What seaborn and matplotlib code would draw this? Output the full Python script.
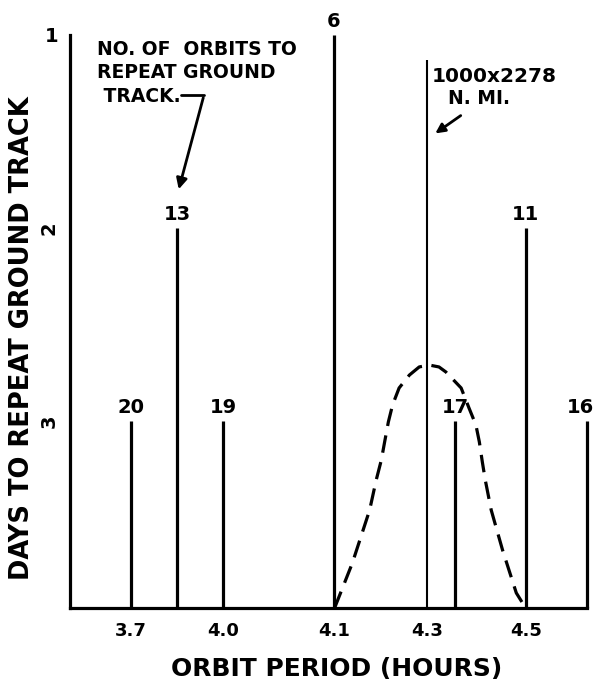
import numpy as np
import pandas as pd
import matplotlib
matplotlib.use('Agg')
import matplotlib.pyplot as plt
import seaborn as sns

# orbits to repeat the ground track
ORBIT_PERIOD = [3.70, 3.85, 4.00, 4.10, 4.357, 4.50, 4.625]
DAYS_TO_REPEAT = [3, 2, 3, 1, 3, 2, 3]
ORBIT_COUNT = ['20', '13', '19', '6', '17', '11', '16']

# 1000 x 2278 n.mi. reference orbit
REF_PERIOD = 4.30
REF_DAYS = 1.13

# dashed envelope
CURVE_PERIOD = [4.102, 4.140, 4.177, 4.191, 4.202, 4.209, 4.217, 4.226,
                4.240, 4.262, 4.283, 4.304, 4.324, 4.338, 4.369, 4.385,
                4.399, 4.406, 4.412, 4.418, 4.430, 4.453, 4.481, 4.500]
CURVE_DAYS = [3.969, 3.736, 3.461, 3.306, 3.202, 3.109, 3.005, 2.917,
              2.829, 2.762, 2.720, 2.710, 2.720, 2.746, 2.829, 2.933,
              3.021, 3.109, 3.212, 3.306, 3.461, 3.668, 3.891, 3.969]

X_TICKS = [3.7, 4.0, 4.1, 4.3, 4.5]
X_TICK_LABELS = ['3.7', '4.0', '4.1', '4.3', '4.5']
Y_TICKS = [1, 2, 3]

# the hand drawn period axis is not linear: piecewise knots
SCALE_KNOTS = [3.4, 3.7, 4.0, 4.1, 4.3, 4.5, 4.8]
SCALE_POS = [38, 130, 223, 334, 428, 527, 675]


def fwd(x):
    return np.interp(x, SCALE_KNOTS, SCALE_POS)


def inv(p):
    return np.interp(p, SCALE_POS, SCALE_KNOTS)


def px(x, y):
    # figure pixel -> axes fraction
    return ((x - 70) / 517, (608 - y) / 573)


sns.set_style('white')
plt.rcParams['font.family'] = ['DejaVu Sans']
plt.rcParams.update({'text.color': 'black', 'axes.labelcolor': 'black',
                     'xtick.color': 'black', 'ytick.color': 'black'})

fig = plt.figure(figsize=(5.99, 6.82), dpi=100)
ax = fig.add_axes([70 / 599, 74 / 682, 517 / 599, 573 / 682])
ax.set_xscale('function', functions=(fwd, inv))
ax.set_xlim(3.501, 4.625)
ax.set_ylim(3.969, 1.0)

base = ax.get_ylim()[0]
ax.vlines(ORBIT_PERIOD, base, DAYS_TO_REPEAT, color='black', lw=2.3, clip_on=False)
ax.vlines([REF_PERIOD], base, [REF_DAYS], color='black', lw=1.5, clip_on=False)

for xp, d, lab in zip(ORBIT_PERIOD, DAYS_TO_REPEAT, ORBIT_COUNT):
    dx = -5 if lab == '16' else 0
    ax.annotate(lab, (xp, d), xytext=(dx, 3), textcoords='offset points',
                ha='center', va='bottom', fontsize=14, fontweight='bold',
                annotation_clip=False)

curve = pd.DataFrame({'period': CURVE_PERIOD, 'days': CURVE_DAYS})
sns.lineplot(data=curve, x='period', y='days', sort=False, estimator=None,
             color='black', lw=2.3, ax=ax)
ax.lines[-1].set_dashes([5.5, 3])

ax.set_xticks(X_TICKS)
ax.set_xticklabels(X_TICK_LABELS, fontsize=13, fontweight='bold')
ax.set_yticks(Y_TICKS)
ax.set_yticklabels([str(t) for t in Y_TICKS], fontsize=14, fontweight='bold')
for t in ax.get_yticklabels()[1:]:
    t.set_rotation(90)
    t.set_va('center')
ax.tick_params(axis='x', length=0, pad=10)
ax.tick_params(axis='y', direction='in', length=9, width=2.2, pad=8)

for side in ['top', 'right']:
    ax.spines[side].set_visible(False)
for side in ['left', 'bottom']:
    ax.spines[side].set_linewidth(2.3)
    ax.spines[side].set_color('black')

ax.set_xlabel('ORBIT PERIOD (HOURS)', fontsize=18, fontweight='bold')
ax.set_ylabel('DAYS TO REPEAT GROUND TRACK', fontsize=18.5, fontweight='bold')
ax.xaxis.set_label_coords(*px(337, 657))
ax.yaxis.set_label_coords(*px(35, 338))

# notes
ax.text(*px(97, 40), 'NO. OF  ORBITS TO\nREPEAT GROUND\n TRACK.', transform=ax.transAxes,
        ha='left', va='top', fontsize=13.5, fontweight='bold', linespacing=1.3)
ax.plot(*zip(px(181, 95), px(204, 95)), transform=ax.transAxes, color='black',
        lw=2, clip_on=False)
ax.annotate('', xy=px(178, 192), xytext=px(204, 95), xycoords='axes fraction',
            arrowprops=dict(arrowstyle='-|>', color='black', lw=2, mutation_scale=16))

ax.text(*px(432, 77), '1000x2278', transform=ax.transAxes, ha='left', va='center',
        fontsize=14.5, fontweight='bold')
ax.text(*px(448, 99), 'N. MI.', transform=ax.transAxes, ha='left', va='center',
        fontsize=13.5, fontweight='bold')
ax.annotate('', xy=px(433, 135), xytext=px(463, 114), xycoords='axes fraction',
            arrowprops=dict(arrowstyle='-|>', color='black', lw=2, mutation_scale=14))

fig.savefig('out.png', dpi=100)
